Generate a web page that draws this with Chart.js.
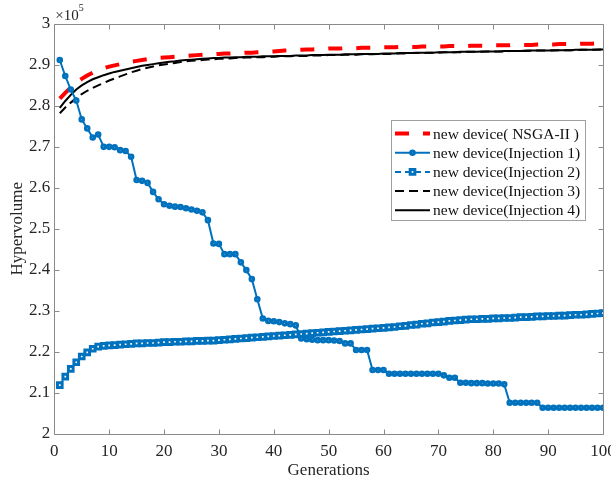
<!DOCTYPE html>
<html>
<head>
<meta charset="utf-8">
<script src="https://cdn.jsdelivr.net/npm/chart.js@4.4.1/dist/chart.umd.min.js"></script>
<style>
  html, body { margin: 0; padding: 0; background: #fff; }
  canvas { display: block; }
</style>
</head>
<body>
<canvas id="hvChart" width="611" height="481"></canvas>
<script>
// hypervolume values, in units of 10^5 (the axis shows x10^5)
var seriesNames = ['new device( NSGA-II )', 'new device(Injection 1)', 'new device(Injection 2)',
    'new device(Injection 3)', 'new device(Injection 4)'];

var nsga2 = [
    2.818, 2.832, 2.845, 2.857, 2.866, 2.874, 2.881, 2.887, 2.892, 2.896,
    2.899, 2.902, 2.905, 2.908, 2.910, 2.912, 2.914, 2.915, 2.917, 2.918,
    2.919, 2.920, 2.921, 2.922, 2.923, 2.924, 2.925, 2.926, 2.926, 2.927,
    2.928, 2.928, 2.929, 2.929, 2.930, 2.930, 2.931, 2.932, 2.932, 2.933,
    2.934, 2.935, 2.935, 2.936, 2.937, 2.938, 2.938, 2.939, 2.939, 2.940,
    2.940, 2.940, 2.941, 2.941, 2.941, 2.942, 2.942, 2.942, 2.943, 2.943,
    2.943, 2.943, 2.944, 2.944, 2.944, 2.944, 2.945, 2.945, 2.945, 2.945,
    2.945, 2.946, 2.946, 2.946, 2.946, 2.947, 2.947, 2.947, 2.947, 2.948,
    2.948, 2.948, 2.948, 2.949, 2.949, 2.949, 2.949, 2.950, 2.950, 2.950,
    2.950, 2.951, 2.951, 2.951, 2.951, 2.952, 2.952, 2.952, 2.953, 2.953
];

var injection1 = [
    2.912, 2.873, 2.840, 2.813, 2.767, 2.745, 2.723, 2.730, 2.700, 2.700,
    2.699, 2.692, 2.690, 2.676, 2.619, 2.617, 2.612, 2.590, 2.572, 2.560,
    2.556, 2.554, 2.553, 2.550, 2.547, 2.544, 2.540, 2.521, 2.464, 2.463,
    2.438, 2.438, 2.438, 2.418, 2.399, 2.377, 2.328, 2.281, 2.275, 2.274,
    2.272, 2.269, 2.267, 2.264, 2.232, 2.230, 2.229, 2.228, 2.228, 2.228,
    2.227, 2.226, 2.220, 2.220, 2.204, 2.204, 2.204, 2.155, 2.155, 2.155,
    2.146, 2.146, 2.146, 2.146, 2.146, 2.146, 2.146, 2.146, 2.146, 2.146,
    2.142, 2.136, 2.136, 2.124, 2.124, 2.123, 2.123, 2.123, 2.122, 2.122,
    2.122, 2.120, 2.075, 2.075, 2.075, 2.075, 2.075, 2.075, 2.063, 2.063,
    2.063, 2.063, 2.063, 2.063, 2.063, 2.063, 2.063, 2.063, 2.063, 2.063
];

var injection2 = [
    2.118, 2.139, 2.158, 2.174, 2.188, 2.198, 2.207, 2.212, 2.214, 2.215,
    2.216, 2.217, 2.218, 2.219, 2.220, 2.220, 2.221, 2.221, 2.222, 2.223,
    2.223, 2.224, 2.224, 2.225, 2.225, 2.226, 2.226, 2.227, 2.227, 2.228,
    2.229, 2.230, 2.231, 2.232, 2.233, 2.234, 2.235, 2.236, 2.237, 2.238,
    2.239, 2.240, 2.241, 2.242, 2.243, 2.244, 2.245, 2.246, 2.247, 2.248,
    2.249, 2.250, 2.251, 2.252, 2.253, 2.254, 2.255, 2.256, 2.257, 2.258,
    2.259, 2.260, 2.262, 2.263, 2.265, 2.266, 2.268, 2.269, 2.271, 2.272,
    2.273, 2.275, 2.276, 2.277, 2.278, 2.279, 2.279, 2.280, 2.280, 2.281,
    2.281, 2.282, 2.282, 2.283, 2.284, 2.284, 2.285, 2.286, 2.286, 2.287,
    2.287, 2.288, 2.288, 2.289, 2.290, 2.290, 2.291, 2.292, 2.293, 2.294
];

var injection3 = [
    2.782, 2.796, 2.808, 2.819, 2.829, 2.837, 2.844, 2.850, 2.856, 2.862,
    2.867, 2.872, 2.877, 2.882, 2.886, 2.890, 2.893, 2.896, 2.899, 2.901,
    2.903, 2.905, 2.907, 2.909, 2.910, 2.911, 2.912, 2.913, 2.914, 2.915,
    2.915, 2.916, 2.917, 2.917, 2.918, 2.918, 2.919, 2.919, 2.920, 2.920,
    2.921, 2.921, 2.921, 2.922, 2.922, 2.922, 2.923, 2.923, 2.923, 2.924,
    2.924, 2.924, 2.925, 2.925, 2.925, 2.926, 2.926, 2.926, 2.927, 2.927,
    2.927, 2.928, 2.928, 2.928, 2.929, 2.929, 2.929, 2.930, 2.930, 2.930,
    2.931, 2.931, 2.931, 2.931, 2.932, 2.932, 2.932, 2.932, 2.933, 2.933,
    2.933, 2.933, 2.934, 2.934, 2.934, 2.934, 2.935, 2.935, 2.935, 2.935,
    2.935, 2.936, 2.936, 2.936, 2.936, 2.937, 2.937, 2.937, 2.937, 2.938
];

var injection4 = [
    2.795, 2.812, 2.827, 2.840, 2.850, 2.858, 2.865, 2.870, 2.875, 2.879,
    2.883, 2.886, 2.889, 2.892, 2.895, 2.898, 2.900, 2.902, 2.904, 2.906,
    2.908, 2.909, 2.911, 2.912, 2.913, 2.914, 2.915, 2.916, 2.917, 2.917,
    2.918, 2.918, 2.919, 2.919, 2.920, 2.920, 2.920, 2.921, 2.921, 2.921,
    2.922, 2.922, 2.922, 2.923, 2.923, 2.923, 2.924, 2.924, 2.924, 2.925,
    2.925, 2.925, 2.926, 2.926, 2.926, 2.927, 2.927, 2.927, 2.927, 2.928,
    2.928, 2.928, 2.929, 2.929, 2.929, 2.930, 2.930, 2.930, 2.930, 2.931,
    2.931, 2.931, 2.931, 2.932, 2.932, 2.932, 2.932, 2.933, 2.933, 2.933,
    2.933, 2.934, 2.934, 2.934, 2.934, 2.935, 2.935, 2.935, 2.935, 2.935,
    2.936, 2.936, 2.936, 2.936, 2.937, 2.937, 2.937, 2.937, 2.938, 2.938
];

// generations 1..100
var generations = [];
for (var g = 1; g <= 100; ++g) {
    generations.push(g);
}

var xTickStep = 10;
var yTickStep = 0.1;

var SERIF = '"Liberation Serif", "Times New Roman", serif';
var TEXT = '#262626';
var AXIS = '#8a8a8a';
var BLUE = '#0072BD';

function toPoints(values) {
    return values.map(function (v, i) {
        return { x: generations[i], y: v };
    });
}

// MATLAB-like box: frame on all four sides, inward ticks, x10^5 exponent
var axesBox = {
    id: 'axesBox',
    beforeDatasetsDraw: function (chart) {
        var ctx = chart.ctx;
        var a = chart.chartArea;
        var xs = chart.scales.x;
        var ys = chart.scales.y;
        var L = Math.round(a.left) + 0.5, R = Math.round(a.right) + 0.5;
        var T = Math.round(a.top) + 0.5, B = Math.round(a.bottom) + 0.5;
        ctx.save();
        ctx.strokeStyle = AXIS;
        ctx.lineWidth = 1;
        ctx.beginPath();
        ctx.rect(L, T, R - L, B - T);
        xs.ticks.forEach(function (t) {
            var px = Math.round(xs.getPixelForValue(t.value)) + 0.5;
            ctx.moveTo(px, B); ctx.lineTo(px, B - 5);
            ctx.moveTo(px, T); ctx.lineTo(px, T + 5);
        });
        ys.ticks.forEach(function (t) {
            var py = Math.round(ys.getPixelForValue(t.value)) + 0.5;
            ctx.moveTo(L, py); ctx.lineTo(L + 5, py);
            ctx.moveTo(R, py); ctx.lineTo(R - 5, py);
        });
        ctx.stroke();

        ctx.fillStyle = TEXT;
        ctx.textAlign = 'left';
        ctx.textBaseline = 'alphabetic';
        ctx.font = '15px ' + SERIF;
        ctx.fillText('\u00d710', a.left + 1, a.top - 4);
        var w = ctx.measureText('\u00d710').width;
        ctx.font = '10px ' + SERIF;
        ctx.fillText('5', a.left + 1 + w, a.top - 13);
        ctx.restore();
    }
};

// boxed legend inside the plot, right side
var boxLegend = {
    id: 'boxLegend',
    afterDraw: function (chart) {
        var ctx = chart.ctx;
        var a = chart.chartArea;
        var x0 = a.right - 212, y0 = a.top + 96;
        var w = 194, h = 100, rowH = 19.2;
        ctx.save();
        ctx.fillStyle = '#fff';
        ctx.fillRect(x0, y0, w, h);
        ctx.strokeStyle = '#a0a0a0';
        ctx.lineWidth = 1;
        ctx.strokeRect(Math.round(x0) + 0.5, Math.round(y0) + 0.5, w, h);

        chart.data.datasets.forEach(function (ds, i) {
            var cy = y0 + 13.5 + i * rowH;
            var sx = x0 + 4, ex = x0 + 39;
            ctx.save();
            ctx.strokeStyle = ds.borderColor;
            ctx.lineWidth = ds.borderWidth;
            ctx.setLineDash(ds.borderDash || []);
            ctx.beginPath();
            ctx.moveTo(sx, cy);
            ctx.lineTo(ex, cy);
            ctx.stroke();
            ctx.setLineDash([]);
            if (ds.pointRadius > 0) {
                var cx = (sx + ex) / 2;
                var r = ds.pointRadius;
                ctx.fillStyle = ds.pointBackgroundColor;
                ctx.strokeStyle = ds.pointBorderColor;
                ctx.lineWidth = ds.pointBorderWidth;
                ctx.beginPath();
                if (ds.pointStyle === 'rect') {
                    var s = r * Math.SQRT1_2;
                    ctx.rect(cx - s, cy - s, 2 * s, 2 * s);
                } else {
                    ctx.arc(cx, cy, r, 0, Math.PI * 2);
                }
                ctx.fill();
                ctx.stroke();
            }
            ctx.restore();

            ctx.fillStyle = '#111';
            ctx.font = '15.5px ' + SERIF;
            ctx.textAlign = 'left';
            ctx.textBaseline = 'middle';
            ctx.fillText(seriesNames[i], x0 + 42, cy + 1);
        });
        ctx.restore();
    }
};

var ctx = document.getElementById('hvChart');

var hvChart = new Chart(ctx, {
    type: 'line',
    data: {
        datasets: [{
            label: seriesNames[0],
            data: toPoints(nsga2),
            borderColor: '#ff0000',
            borderWidth: 4,
            borderDash: [14, 14],
            pointRadius: 0,
            order: 2
        }, {
            label: seriesNames[1],
            data: toPoints(injection1),
            borderColor: BLUE,
            borderWidth: 2,
            pointStyle: 'circle',
            pointRadius: 1.8,
            pointBorderWidth: 3,
            pointBorderColor: BLUE,
            pointBackgroundColor: '#fff',
            order: 1
        }, {
            label: seriesNames[2],
            data: toPoints(injection2),
            borderColor: BLUE,
            borderWidth: 2,
            borderDash: [6, 4],
            pointStyle: 'rect',
            pointRadius: 3.3,
            pointBorderWidth: 3,
            pointBorderColor: BLUE,
            pointBackgroundColor: '#fff',
            order: 0
        }, {
            label: seriesNames[3],
            data: toPoints(injection3),
            borderColor: '#000',
            borderWidth: 2,
            borderDash: [9, 5],
            pointRadius: 0,
            order: 3
        }, {
            label: seriesNames[4],
            data: toPoints(injection4),
            borderColor: '#000',
            borderWidth: 2,
            pointRadius: 0,
            order: 4
        }]
    },
    options: {
        responsive: false,
        animation: false,
        events: [],
        elements: { line: { tension: 0, fill: false } },
        layout: { padding: { top: 24, right: 8, left: 0, bottom: 0 } },
        plugins: {
            legend: { display: false },
            tooltip: { enabled: false }
        },
        scales: {
            x: {
                type: 'linear',
                min: 0,
                max: 100,
                afterFit: function (s) {
                    s.height = 47.5;
                    s.paddingLeft = 0;
                    s.paddingRight = 0;
                },
                grid: { display: false, drawTicks: false },
                border: { display: false },
                ticks: {
                    stepSize: xTickStep,
                    maxRotation: 0,
                    padding: 8,
                    color: TEXT,
                    font: { family: SERIF, size: 17 }
                },
                title: {
                    display: true,
                    text: 'Generations',
                    color: TEXT,
                    font: { family: SERIF, size: 17 },
                    padding: { top: 0, bottom: 0 }
                }
            },
            y: {
                min: 2,
                max: 3,
                afterFit: function (s) {
                    s.width = 54.3;
                    s.paddingTop = 0;
                    s.paddingBottom = 0;
                },
                grid: { display: false, drawTicks: false },
                border: { display: false },
                ticks: {
                    stepSize: yTickStep,
                    padding: 4,
                    color: TEXT,
                    font: { family: SERIF, size: 17 },
                    callback: function (v) { return String(Number(v.toFixed(1))); }
                },
                title: {
                    display: true,
                    text: 'Hypervolume',
                    color: TEXT,
                    font: { family: SERIF, size: 17 },
                    padding: { top: 7, bottom: 0 }
                }
            }
        }
    },
    plugins: [axesBox, boxLegend]
});
</script>
</body>
</html>
